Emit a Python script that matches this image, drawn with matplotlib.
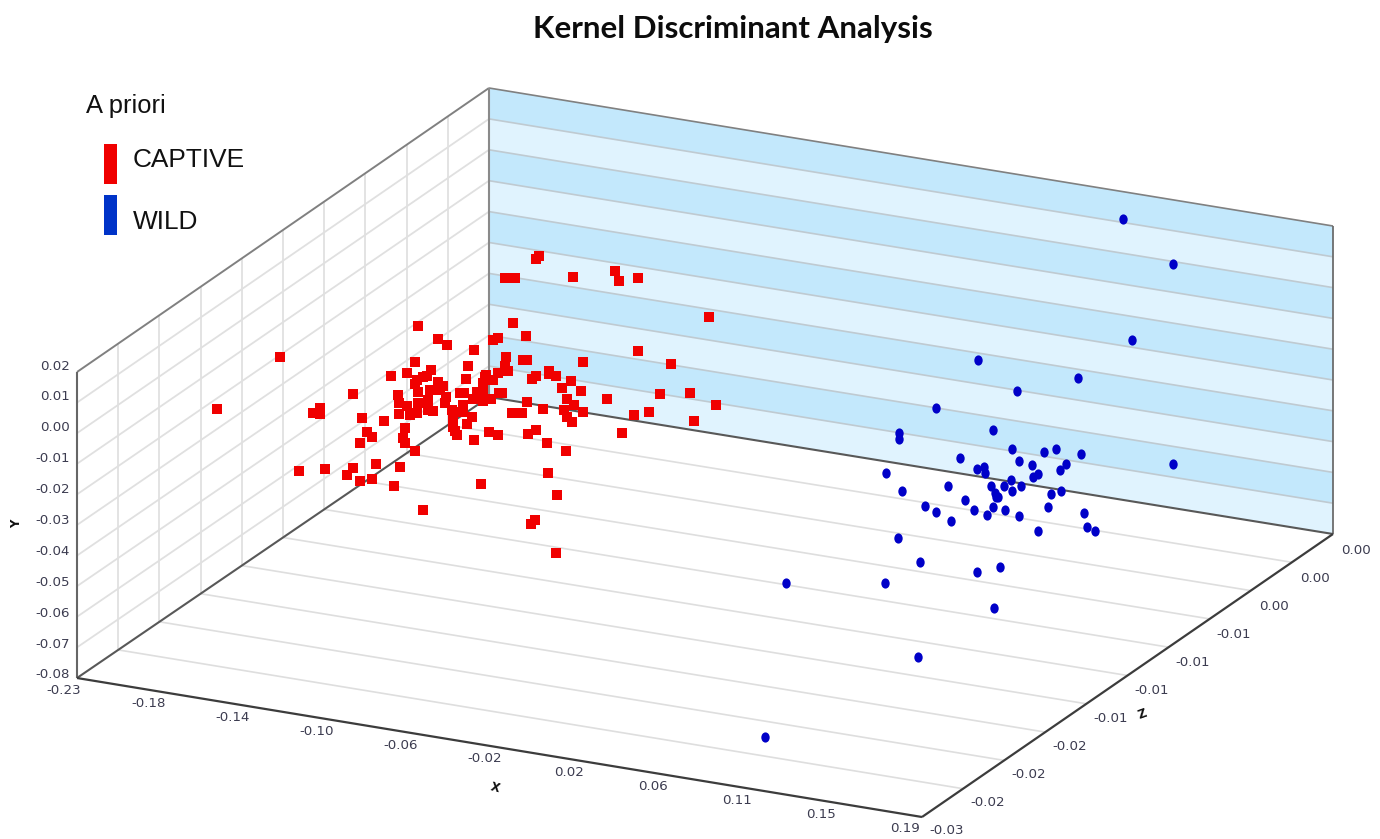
import numpy as np
import matplotlib
matplotlib.use("Agg")
import matplotlib.pyplot as plt
from matplotlib.patches import Polygon, Rectangle
from matplotlib.path import Path
from matplotlib.markers import MarkerStyle
from matplotlib.transforms import Affine2D

# Projected positions of the points
captive_px = [217,280,313,320,320,353,362,384,367,372,360,299,325,353,347,360,372,376,400,394,423,481,
              418,438,447,474,415,468,407,391,431,466,398,399,399,407,410,418,417,428,428,433,417,415,418,
              423,427,430,438,443,440,446,445,452,453,463,457,460,464,463,472,467,453,455,457,473,477,483,
              486,493,498,483,483,491,499,489,498,474,415,405,403,405,493,498,
              539,536,505,515,573,615,619,638,709,513,526,638,583,671,506,505,508,523,527,532,536,549,549,
              556,562,571,581,567,574,607,660,690,716,649,634,694,502,527,543,512,522,564,567,572,583,622,
              528,536,547,566,548,557,535,531,556,485,483,483]
captive_py = [409,357,413,408,414,394,418,421,432,437,443,471,469,468,475,481,479,464,467,486,510,484,
              326,339,345,350,362,366,373,376,370,379,395,403,414,406,415,403,413,400,410,411,380,384,392,
              377,376,390,382,386,390,397,403,410,417,412,412,393,393,405,417,424,427,431,435,399,392,383,
              375,380,373,393,401,399,393,432,435,440,451,428,438,443,340,338,
              256,259,278,278,277,271,281,278,317,323,336,351,362,364,357,366,371,360,360,379,376,371,374,
              376,388,381,391,399,405,399,394,393,405,412,415,421,393,402,409,413,413,410,417,422,412,433,
              434,430,443,451,473,495,520,524,553,377,387,400]
wild_px = [899,899,993,1012,1044,1056,1081,1019,960,977,984,985,1032,1066,1060,1038,1033,886,902,948,991,
           1011,1004,1012,1021,1061,1051,995,996,998,965,925,936,951,974,993,987,1005,1019,1048,1084,1087,
           1095,1038,898,920,977,1000,885,994,918,786,765,1123,1173,1132,978,1078,1017,936,1173]
wild_py = [433,439,430,449,452,449,454,461,458,469,467,473,465,464,470,474,477,473,491,486,486,480,486,
           491,486,491,494,493,497,497,500,506,512,521,510,507,515,510,516,507,513,527,531,531,538,562,
           572,567,583,608,657,583,737,219,264,340,360,378,391,408,464]

x_labels = ['-0.23','-0.18','-0.14','-0.10','-0.06','-0.02','0.02','0.06','0.11','0.15','0.19']
y_labels = ['0.02','0.01','0.00','-0.01','-0.02','-0.03','-0.04','-0.05','-0.06','-0.07','-0.08']
z_labels = ['-0.03','-0.02','-0.02','-0.02','-0.01','-0.01','-0.01','-0.01','0.00','0.00','0.00']

LEFT_TOP = np.array([77., 372.])
LEFT_BOT = np.array([77., 678.])
BACK_TOP = np.array([489., 88.])
BACK_BOT = np.array([489., 397.])
RIGHT_TOP = np.array([1333., 226.])
RIGHT_BOT = np.array([1333., 534.])
FRONT = np.array([922., 817.])
N = 10

fig = plt.figure(figsize=(13.8, 8.39), dpi=100)
ax = fig.add_axes([0, 0, 1, 1])
ax.set_xlim(0, 1380)
ax.set_ylim(839, 0)
ax.axis('off')

def seg(a, b, **kw):
    ax.plot([a[0], b[0]], [a[1], b[1]], solid_capstyle='butt', **kw)

# back wall bands
for i in range(N):
    t0, t1 = i / N, (i + 1) / N
    quad = [BACK_TOP + (BACK_BOT - BACK_TOP) * t0, RIGHT_TOP + (RIGHT_BOT - RIGHT_TOP) * t0,
            RIGHT_TOP + (RIGHT_BOT - RIGHT_TOP) * t1, BACK_TOP + (BACK_BOT - BACK_TOP) * t1]
    ax.add_patch(Polygon(quad, closed=True, fc='#c3e8fc' if i % 2 == 0 else '#e0f3fe', ec='none', zorder=1))
for i in range(1, N):
    t = i / N
    seg(BACK_TOP + (BACK_BOT - BACK_TOP) * t, RIGHT_TOP + (RIGHT_BOT - RIGHT_TOP) * t,
        color='#bfcad1', lw=1.2, zorder=2)

# left wall grid
for i in range(1, N):
    t = i / N
    seg(LEFT_TOP + (LEFT_BOT - LEFT_TOP) * t, BACK_TOP + (BACK_BOT - BACK_TOP) * t,
        color='#e0e0e0', lw=1.3, zorder=2)
    seg(LEFT_BOT + (BACK_BOT - LEFT_BOT) * t, LEFT_TOP + (BACK_TOP - LEFT_TOP) * t,
        color='#e0e0e0', lw=1.3, zorder=2)

# floor grid
for i in range(1, N):
    t = i / N
    seg(LEFT_BOT + (BACK_BOT - LEFT_BOT) * t, FRONT + (RIGHT_BOT - FRONT) * t,
        color='#dedede', lw=1.2, zorder=2)

# frame
seg(LEFT_TOP, BACK_TOP, color='#808080', lw=1.4, zorder=3)
seg(BACK_TOP, RIGHT_TOP, color='#808080', lw=1.2, zorder=3)
seg(BACK_TOP, BACK_BOT, color='#8a8a8a', lw=1.5, zorder=3)
seg(RIGHT_TOP, RIGHT_BOT, color='#6c6c6c', lw=1.3, zorder=3)
seg(LEFT_TOP, LEFT_BOT, color='#666666', lw=1.5, zorder=3)
seg(LEFT_BOT, BACK_BOT, color='#585858', lw=1.5, zorder=3)
seg(BACK_BOT, RIGHT_BOT, color='#585858', lw=1.5, zorder=3)
seg(LEFT_BOT, FRONT, color='#3c3c3c', lw=1.6, zorder=3)
seg(FRONT, RIGHT_BOT, color='#3c3c3c', lw=1.6, zorder=3)

# markers
ax.scatter(captive_px, captive_py, marker='s', s=46, c='#f00000', linewidths=0, zorder=5)
circle = Path.unit_circle()
ell = MarkerStyle(circle.transformed(Affine2D().scale(0.82, 1.0)))
ax.scatter(wild_px, wild_py, marker=ell, s=54, c='#0000c8', linewidths=0, zorder=5)

# tick labels
tick_kw = dict(family='DejaVu Sans', fontsize=9.6, color='#3c3c50', zorder=6)
for i, lab in enumerate(y_labels):
    ax.text(70, 366 + i * 30.9, lab, ha='right', va='center', **tick_kw)
for i, lab in enumerate(x_labels):
    ax.text(64 + i * 84.1, 690 + i * 13.8, lab, ha='center', va='center', **tick_kw)
for i, lab in enumerate(z_labels):
    ax.text(947 + i * 40.9, 831 - i * 28.1, lab, ha='center', va='center', **tick_kw)

lab_kw = dict(family='DejaVu Sans', fontsize=8.5, fontweight='bold', color='#111111',
              ha='center', va='center', zorder=6)
ax.text(17, 524, 'Y', rotation=90, **lab_kw)
ax.text(495, 788, 'X', rotation=-15, **lab_kw)
ax.text(1142, 714, 'Z', rotation=20, **lab_kw)

# title + legend
ax.text(733, 29, 'Kernel Discriminant Analysis', family='Lato', fontweight='bold', fontsize=22.5,
        ha='center', va='center', color='#0c0c0c')
ax.text(86, 106, 'A priori', family='Liberation Sans', fontsize=18.4, ha='left', va='center', color='#111111')
ax.add_patch(Rectangle((104, 144), 13, 40, fc='#f00000', ec='none', zorder=6))
ax.add_patch(Rectangle((104, 195), 13, 40, fc='#0033c8', ec='none', zorder=6))
ax.text(133, 160, 'CAPTIVE', family='Liberation Sans', fontsize=18.9, ha='left', va='center', color='#111111')
ax.text(133, 222, 'WILD', family='Liberation Sans', fontsize=18.9, ha='left', va='center', color='#111111')

fig.savefig('out.png', dpi=100)
